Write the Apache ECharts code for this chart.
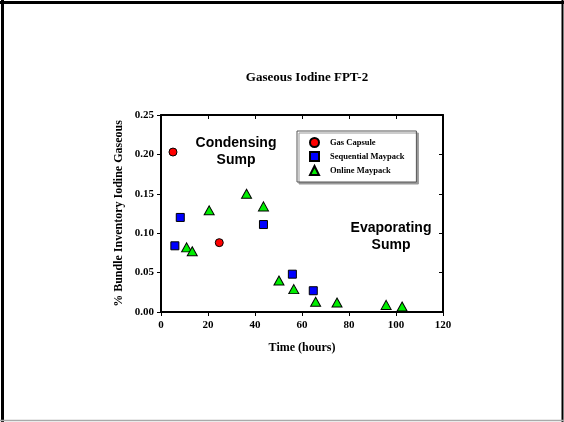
<!DOCTYPE html>
<html>
<head>
<meta charset="utf-8">
<script src="https://cdn.jsdelivr.net/npm/echarts@6/dist/echarts.min.js"></script>
<style>html,body{margin:0;padding:0;background:#fff}#c{width:564px;height:422px}</style>
</head>
<body>
<div id="c"></div>
<script>
// Data
var gasCapsule = [[5.1, 0.203], [24.8, 0.088]];
var sequentialMaypack = [[5.9, 0.084], [8.2, 0.120], [43.6, 0.111], [55.9, 0.048], [64.8, 0.027]];
var onlineMaypack = [[10.9, 0.082], [13.3, 0.077], [20.5, 0.129], [36.4, 0.150], [43.6, 0.134],
  [50.2, 0.040], [56.5, 0.029], [65.8, 0.013], [74.9, 0.012], [95.8, 0.009], [102.6, 0.007]];
var seriesNames = ['Gas Capsule', 'Sequential Maypack', 'Online Maypack'];
var xTicks = [0, 20, 40, 60, 80, 100, 120];
var yTicks = [0.00, 0.05, 0.10, 0.15, 0.20, 0.25];

var serif = '"Liberation Serif","Times New Roman",serif';
var sans = '"Liberation Sans",Arial,sans-serif';
var chart = echarts.init(document.getElementById('c'), null, {renderer: 'canvas'});
var lineStyle = {color: '#000', width: 2};
var tickFont = {fontFamily: serif, fontWeight: 'bold', fontSize: 11, color: '#000'};
var option = {
  backgroundColor: '#fff',
  animation: false,
  title: {
    text: 'Gaseous Iodine FPT-2', left: 302, top: 66, textAlign: 'center',
    textStyle: {fontFamily: serif, fontWeight: 'bold', fontSize: 13, color: '#000'}
  },
  grid: {left: 161, right: 121, top: 115, bottom: 110},
  legend: {
    left: 297, top: 131, orient: 'vertical',
    padding: [6, 12, 6, 12], itemGap: 3, itemWidth: 9, itemHeight: 9,
    backgroundColor: '#fff', borderColor: '#555', borderWidth: 1,
    shadowColor: '#999', shadowOffsetX: 2, shadowOffsetY: 2, shadowBlur: 0,
    textStyle: {fontFamily: serif, fontWeight: 'bold', fontSize: 8.5, color: '#000', padding: [0, 0, 0, 6]},
    data: seriesNames
  },
  xAxis: [{
    type: 'value', min: xTicks[0], max: xTicks[xTicks.length - 1], interval: 20,
    name: 'Time (hours)', nameLocation: 'middle', nameGap: 30,
    nameTextStyle: {fontFamily: serif, fontWeight: 'bold', fontSize: 12, color: '#000'},
    axisLine: {onZero: false, lineStyle: lineStyle}, axisTick: {inside: false, length: 4, lineStyle: {color: '#000', width: 1}},
    axisLabel: Object.assign({margin: 8}, tickFont), splitLine: {show: false}
  }, {
    type: 'value', position: 'top', min: xTicks[0], max: xTicks[xTicks.length - 1], interval: 20,
    axisLine: {onZero: false, lineStyle: lineStyle}, axisTick: {inside: true, length: 4, lineStyle: {color: '#000', width: 1}},
    axisLabel: {show: false}, splitLine: {show: false}
  }],
  yAxis: [{
    type: 'value', min: yTicks[0], max: yTicks[yTicks.length - 1], interval: 0.05,
    name: '% Bundle Inventory Iodine Gaseous', nameLocation: 'middle', nameGap: 36, nameRotate: 90,
    nameTextStyle: {fontFamily: serif, fontWeight: 'bold', fontSize: 12, color: '#000'},
    axisLine: {onZero: false, lineStyle: lineStyle}, axisTick: {inside: false, length: 4, lineStyle: {color: '#000', width: 1}},
    axisLabel: Object.assign({margin: 7, formatter: function (v) { return v.toFixed(2); }}, tickFont),
    splitLine: {show: false}
  }, {
    type: 'value', position: 'right', min: yTicks[0], max: yTicks[yTicks.length - 1], interval: 0.05,
    axisLine: {onZero: false, lineStyle: lineStyle}, axisTick: {inside: true, length: 4, lineStyle: {color: '#000', width: 1}},
    axisLabel: {show: false}, splitLine: {show: false}
  }],
  series: [{
    name: seriesNames[0], type: 'scatter', data: gasCapsule, symbol: 'circle', symbolSize: 8,
    itemStyle: {color: '#ff0000', borderColor: '#000', borderWidth: 1, opacity: 1}
  }, {
    name: seriesNames[1], type: 'scatter', data: sequentialMaypack, symbol: 'rect', symbolSize: 8,
    itemStyle: {color: '#0000ff', borderColor: '#000', borderWidth: 1, opacity: 1}
  }, {
    name: seriesNames[2], type: 'scatter', data: onlineMaypack, symbol: 'triangle', symbolSize: [10, 9],
    itemStyle: {color: '#00ee00', borderColor: '#000', borderWidth: 1, opacity: 1}
  }],
  graphic: [
    {type: 'text', x: 236, y: 135, style: {text: 'Condensing\nSump', align: 'center', textAlign: 'center', fill: '#000',
      font: 'bold 14px ' + sans, lineHeight: 17}},
    {type: 'text', x: 391, y: 220, style: {text: 'Evaporating\nSump', align: 'center', textAlign: 'center', fill: '#000',
      font: 'bold 14px ' + sans, lineHeight: 17}},
    {type: 'line', shape: {x1: 2.5, y1: 0, x2: 2.5, y2: 422}, style: {stroke: '#000', lineWidth: 3}},
    {type: 'line', shape: {x1: 0, y1: 2.5, x2: 564, y2: 2.5}, style: {stroke: '#000', lineWidth: 3}},
    {type: 'line', shape: {x1: 562.5, y1: 0, x2: 562.5, y2: 422}, style: {stroke: '#000', lineWidth: 2}},
    {type: 'line', shape: {x1: 0, y1: 420.5, x2: 564, y2: 420.5}, style: {stroke: '#aaa', lineWidth: 1.5}}
  ]
};
chart.setOption(option);
</script>
</body>
</html>
